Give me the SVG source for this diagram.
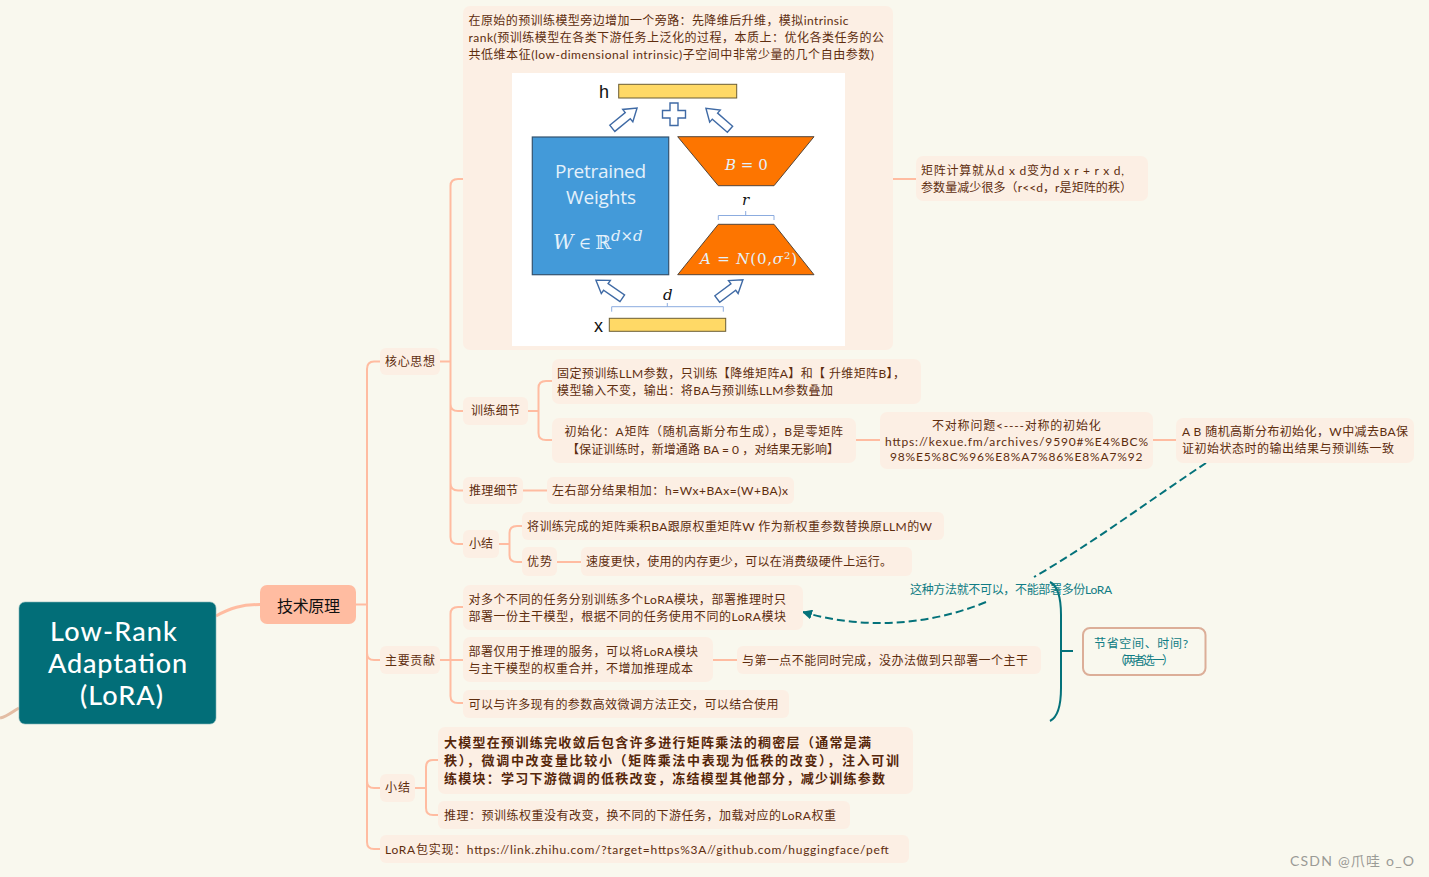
<svg xmlns="http://www.w3.org/2000/svg" width="1429" height="877" viewBox="0 0 1429 877">
<style>
.n{fill:#fcefe4}
.t{font-family:"Lato","Noto Sans CJK SC",sans-serif;font-size:12px;fill:#5e2d0e}
.b{font-weight:700;font-size:13px;fill:#57270a}
.c{fill:none;stroke:#ffbca1;stroke-width:2}
.teal{fill:none;stroke:#04727a;stroke-width:2}
.m{font-family:"DejaVu Serif","Liberation Serif",serif;font-style:italic}
.w{fill:#e4f1fb}
.bar{fill:#ffd966;stroke:#6b5d35;stroke-width:1}
.trap{fill:#fd7500;stroke:#54463a;stroke-width:1}
.arr{fill:#fff;stroke:#3f6aa5;stroke-width:1.4}
.br{fill:none;stroke:#8cacdf;stroke-width:1}
</style>
<defs>
<polygon id="ar" class="arr" points="0,-4 20,-4 20,-8 32,0 20,8 20,4 0,4"/>
<marker id="head" viewBox="0 0 10 10" refX="9" refY="5" markerWidth="5" markerHeight="5" orient="auto-start-reverse"><path d="M0,0L10,5L0,10z" fill="#04727a"/></marker>
</defs>
<rect width="1429" height="877" fill="#f9f8ee"/>
<g id="connectors">
<path d="M0,718C8,716 13,711 19,708" fill="none" stroke="#e3bda4" stroke-width="3"/>
<path d="M216,616C230,608 242,604.500 260,604.500" fill="none" stroke="#ffbca1" stroke-width="3"/>
<path class="c" d="M356,604.500H367M380,361.500H374Q367,361.500 367,369V842Q367,849 374,849H380M367,653Q367,660 374,660H380M367,781Q367,788 374,788H380"/>
<path class="c" d="M440,361.500H450.500M463,179H458Q450.500,179 450.500,186V537Q450.500,544 458,544H463M450.500,404Q450.500,411 458,411H463M450.500,483Q450.500,490.500 458,490.500H463"/>
<path class="c" d="M528,411H538.500M552,381H546Q538.500,381 538.500,388V433Q538.500,440 546,440H552"/>
<path class="c" d="M893,179H916M856,440H880M1153,440H1176M523,490.500H547M557,562H581M713,660H737"/>
<path class="c" d="M499,544H509.500M522,526H517Q509.500,526 509.500,533V555Q509.500,562 517,562H522"/>
<path class="c" d="M440,660H463M463,607H458Q450.500,607 450.500,614V696Q450.500,703 458,703H463"/>
<path class="c" d="M415,788H426M438,760H433Q426,760 426,767V808Q426,815 433,815H438"/>
<path fill="none" stroke="#04727a" stroke-width="2" stroke-dasharray="8 4" marker-end="url(#head)" d="M1206,463C1150,500 1090,545 1034,577M986,602C925,627 860,629 803,612"/>
<path class="teal" d="M1050,582C1058,586 1061,600 1061,615V688C1061,705 1058,717 1050,721M1061,651H1073"/>
</g>
<g id="root"><rect x="19" y="602" width="197" height="122" rx="6" fill="#026e78" stroke="#7fb4b6" stroke-width="0.6"/>
<g style="font-family:'Lato','Open Sans',sans-serif;font-size:27px;font-weight:500;fill:#fff"><text x="50" y="641" textLength="127">Low-Rank</text><text x="48" y="673" textLength="139">Adaptation</text><text x="80" y="705" textLength="83">(LoRA)</text></g></g>
<g id="branch"><rect x="260" y="585" width="96" height="39" rx="7" fill="#ffbca1"/><text x="277" y="612" textLength="63" style="font-family:'Noto Sans CJK SC',sans-serif;font-size:16px;fill:#111">技术原理</text></g>
<g id="core"><rect class="n" x="380" y="348" width="60" height="27" rx="6"/><text class="t" x="385" y="366" textLength="50">核心思想</text></g>
<g id="bypass"><rect class="n" x="463" y="6" width="430" height="344" rx="7"/>
<text class="t" x="468.500" y="24.500" textLength="380">在原始的预训练模型旁边增加一个旁路：先降维后升维，模拟intrinsic</text>
<text class="t" x="468.500" y="42" textLength="415.500">rank(预训练模型在各类下游任务上泛化的过程，本质上：优化各类任务的公</text>
<text class="t" x="468.500" y="59" textLength="405.500">共低维本征(low-dimensional intrinsic)子空间中非常少量的几个自由参数)</text>
<g id="figure">
<rect x="512" y="73" width="333" height="273" fill="#fff"/>
<text x="599" y="97.500" style="font-family:'Liberation Sans',sans-serif;font-size:18px;fill:#111">h</text>
<rect class="bar" x="618.700" y="84.300" width="118" height="13.700"/>
<use href="#ar" transform="translate(612.300,128.300) rotate(-39.300)"/>
<use href="#ar" transform="translate(730,129.300) rotate(-138.800)"/>
<use href="#ar" transform="translate(622.300,298.300) rotate(-145.500)"/>
<use href="#ar" transform="translate(717.300,299) rotate(-36.800)"/>
<path class="arr" d="M670,103H678V110.500H685.500V118H678V125.500H670V118H662.500V110.500H670Z"/>
<rect x="532.300" y="137" width="136.400" height="137.700" fill="#439ad9" stroke="#34536e" stroke-width="1.200"/>
<g class="w" style="font-family:'Open Sans',sans-serif;font-size:19px"><text x="555" y="178" textLength="91">Pretrained</text><text x="566" y="204" textLength="70">Weights</text></g>
<text class="w m" x="553" y="249" style="font-size:20px">W<tspan font-style="normal" dx="5" font-size="17">∈</tspan><tspan font-style="normal" dx="4" font-size="19">ℝ</tspan><tspan dy="-8" font-size="15">d×d</tspan></text>
<polygon class="trap" points="677.700,136.700 814,136.700 774,185.700 718.300,185.700"/>
<text class="w m" x="725" y="170" style="font-size:15px">B<tspan font-style="normal"> = 0</tspan></text>
<text class="m" x="742" y="205" style="font-size:15px;fill:#111">r</text>
<path class="br" d="M718.300,220V215.500H774V220M745.700,215.500V211"/>
<polygon class="trap" points="718.300,224.300 774,224.300 814,274.700 677.700,274.700"/>
<text class="w m" x="700" y="264" textLength="97" style="font-size:15px">A<tspan font-style="normal"> = </tspan>N<tspan font-style="normal">(0,</tspan>σ<tspan font-style="normal" dy="-5" font-size="10">2</tspan><tspan font-style="normal" dy="5">)</tspan></text>
<text class="m" x="663" y="299.500" style="font-size:15px;fill:#111">d</text>
<path class="br" d="M611.700,311.700V306.700H723.300V311.700M667.300,306.700V303"/>
<text x="594" y="331.500" style="font-family:'Liberation Sans',sans-serif;font-size:18px;fill:#111">x</text>
<rect class="bar" x="609.300" y="318.300" width="116.400" height="13"/>
</g></g>
<g id="matrix"><rect class="n" x="916" y="156" width="232" height="45" rx="7"/><text class="t" x="921" y="175" textLength="203">矩阵计算就从d x d变为d x r + r x d,</text><text class="t" x="921" y="192" textLength="211">参数量减少很多（r&lt;&lt;d，r是矩阵的秩）</text></g>
<g id="train"><rect class="n" x="463" y="397" width="65" height="28" rx="6"/><text class="t" x="471" y="415" textLength="49">训练细节</text></g>
<g id="fix"><rect class="n" x="552" y="359" width="369" height="45" rx="7"/><text class="t" x="557" y="378" textLength="348">固定预训练LLM参数，只训练【降维矩阵A】和【 升维矩阵B】，</text><text class="t" x="557" y="395" textLength="276">模型输入不变，输出：将BA与预训练LLM参数叠加</text></g>
<g id="init"><rect class="n" x="552" y="418" width="304" height="45" rx="7"/><text class="t" x="564.500" y="436" textLength="278.500">初始化：A矩阵（随机高斯分布生成），B是零矩阵</text><text class="t" x="567" y="454" textLength="272">【保证训练时，新增通路 BA = 0 ，对结果无影响】</text></g>
<g id="asym"><rect class="n" x="880" y="412" width="273" height="57" rx="7"/><text class="t" x="932" y="430" textLength="168.700">不对称问题&lt;----对称的初始化</text><text class="t" x="885" y="445.500" textLength="263">https://kexue.fm/archives/9590#%E4%BC%</text><text class="t" x="890" y="461" textLength="252.500">98%E5%8C%96%E8%A7%86%E8%A7%92</text></g>
<g id="ab"><rect class="n" x="1176" y="418" width="238" height="45" rx="7"/><text class="t" x="1182" y="436" textLength="226">A B 随机高斯分布初始化，W中减去BA保</text><text class="t" x="1182" y="453" textLength="212">证初始状态时的输出结果与预训练一致</text></g>
<g id="infer"><rect class="n" x="463" y="477" width="60" height="27" rx="6"/><text class="t" x="469" y="495" textLength="49">推理细节</text></g>
<g id="sum-infer"><rect class="n" x="547" y="477" width="247" height="27" rx="6"/><text class="t" x="552" y="495" textLength="236">左右部分结果相加：h=Wx+BAx=(W+BA)x</text></g>
<g id="summary1"><rect class="n" x="463" y="530" width="36" height="28" rx="6"/><text class="t" x="469" y="548" textLength="24">小结</text></g>
<g id="replace"><rect class="n" x="522" y="512" width="422" height="28" rx="6"/><text class="t" x="527" y="531" textLength="405">将训练完成的矩阵乘积BA跟原权重矩阵W 作为新权重参数替换原LLM的W</text></g>
<g id="adv"><rect class="n" x="522" y="547" width="35" height="29" rx="6"/><text class="t" x="527" y="566" textLength="25">优势</text></g>
<g id="speed"><rect class="n" x="581" y="547" width="331" height="29" rx="6"/><text class="t" x="586" y="566" textLength="306">速度更快，使用的内存更少，可以在消费级硬件上运行。</text></g>
<g id="contrib"><rect class="n" x="380" y="646" width="60" height="28" rx="6"/><text class="t" x="385" y="665" textLength="50">主要贡献</text></g>
<g id="c1"><rect class="n" x="463" y="585" width="340" height="45" rx="7"/><text class="t" x="468.500" y="604" textLength="317.500">对多个不同的任务分别训练多个LoRA模块，部署推理时只</text><text class="t" x="468.500" y="621" textLength="317.500">部署一份主干模型，根据不同的任务使用不同的LoRA模块</text></g>
<g id="c2"><rect class="n" x="463" y="637" width="250" height="45" rx="7"/><text class="t" x="468.500" y="655.500" textLength="229.500">部署仅用于推理的服务，可以将LoRA模块</text><text class="t" x="468.500" y="673" textLength="224.500">与主干模型的权重合并，不增加推理成本</text></g>
<g id="c2b"><rect class="n" x="737" y="646" width="304" height="28" rx="6"/><text class="t" x="742" y="665" textLength="286">与第一点不能同时完成，没办法做到只部署一个主干</text></g>
<g id="c3"><rect class="n" x="463" y="690" width="326" height="28" rx="6"/><text class="t" x="468.500" y="709" textLength="310">可以与许多现有的参数高效微调方法正交，可以结合使用</text></g>
<g id="summary2"><rect class="n" x="380" y="774" width="35" height="28" rx="6"/><text class="t" x="385" y="792" textLength="25">小结</text></g>
<g id="big"><rect class="n" x="438" y="727" width="475" height="67" rx="7"/><text class="t b" x="444" y="747" textLength="427">大模型在预训练完收敛后包含许多进行矩阵乘法的稠密层（通常是满</text><text class="t b" x="444" y="765" textLength="455">秩），微调中改变量比较小（矩阵乘法中表现为低秩的改变），注入可训</text><text class="t b" x="444" y="783" textLength="441">练模块：学习下游微调的低秩改变，冻结模型其他部分，减少训练参数</text></g>
<g id="infer2"><rect class="n" x="438" y="801" width="412" height="28" rx="6"/><text class="t" x="444" y="820" textLength="392">推理：预训练权重没有改变，换不同的下游任务，加载对应的LoRA权重</text></g>
<g id="impl"><rect class="n" x="380" y="835" width="529" height="28" rx="6"/><text class="t" x="385" y="854" textLength="503.600">LoRA包实现：https://link.zhihu.com/?target=https%3A//github.com/huggingface/peft</text></g>
<g id="label"><text class="t" x="910" y="594" textLength="202" style="fill:#0f7c84">这种方法就不可以，不能部署多份LoRA</text></g>
<g id="saving"><rect x="1083" y="628" width="122.500" height="47" rx="7" fill="none" stroke="#dcae98" stroke-width="2"/><text class="t" x="1094" y="648" textLength="94" style="fill:#0f7c84">节省空间、时间?</text><text class="t" x="1114" y="665" textLength="60" style="fill:#0f7c84">（两者选一）</text></g>
<text x="1290" y="866" textLength="124" style="font-family:'Lato','Noto Sans CJK SC',sans-serif;font-size:14px;fill:#9b9b96">CSDN @爪哇 o_O</text>
</svg>
